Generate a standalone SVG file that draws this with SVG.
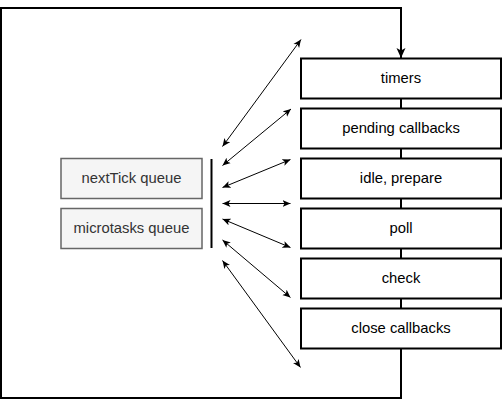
<svg xmlns="http://www.w3.org/2000/svg" width="502" height="400" viewBox="0 0 502 400">
<style>
.phase rect{fill:#ffffff;stroke:#000000;stroke-width:2}
.queue rect{fill:#f5f5f5;stroke:#666666;stroke-width:1.5}
text{font-family:"Liberation Sans",Arial,sans-serif;font-size:14.8px;text-anchor:middle}
.phase text{fill:#000000}
.queue text{fill:#333333}
.thin{fill:none;stroke:#000000;stroke-width:1;marker-start:url(#ah);marker-end:url(#ah)}
.thick{fill:none;stroke:#000000;stroke-width:2}
</style>
<defs>
<marker id="ah" viewBox="0 0 8 8" refX="8" refY="4" markerWidth="8" markerHeight="8" markerUnits="userSpaceOnUse" orient="auto-start-reverse">
<path d="M0,0.5 L8,4 L0,7.5 L2,4 Z" fill="#000000"/>
</marker>
<marker id="bh" viewBox="0 0 10 10" refX="10" refY="5" markerWidth="10" markerHeight="10" markerUnits="userSpaceOnUse" orient="auto">
<path d="M0,0.5 L10,5 L0,9.5 L2.5,5 Z" fill="#000000"/>
</marker>
</defs>
<g id="connectors">
<path class="thick" d="M401,348 L401,398 L1,398 L1,8 L401,8 L401,58" marker-end="url(#bh)"/>
<line class="thick" x1="401" y1="98" x2="401" y2="108"/>
<line class="thick" x1="401" y1="148" x2="401" y2="158"/>
<line class="thick" x1="401" y1="198" x2="401" y2="208"/>
<line class="thick" x1="401" y1="248" x2="401" y2="258"/>
<line class="thick" x1="401" y1="298" x2="401" y2="308"/>
<line class="thin" x1="222.5" y1="146.5" x2="301" y2="39.5"/>
<line class="thin" x1="222.5" y1="165.5" x2="291" y2="109"/>
<line class="thin" x1="222.5" y1="187.5" x2="290.5" y2="159.5"/>
<line class="thin" x1="222.5" y1="203.5" x2="290.5" y2="203.5"/>
<line class="thin" x1="222.5" y1="219" x2="290.5" y2="247.5"/>
<line class="thin" x1="222.5" y1="240" x2="290.5" y2="297.5"/>
<line class="thin" x1="222.5" y1="260.5" x2="300.5" y2="367.5"/>
</g>
<g id="bar">
<line x1="211.5" y1="159" x2="211.5" y2="248" stroke="#000000" stroke-width="2"/>
</g>
<g id="timers" class="phase"><rect x="301" y="58.5" width="200" height="40"/><text x="401" y="83">timers</text></g>
<g id="pending-callbacks" class="phase"><rect x="301" y="108.5" width="200" height="40"/><text x="401" y="133">pending callbacks</text></g>
<g id="idle-prepare" class="phase"><rect x="301" y="158.5" width="200" height="40"/><text x="401" y="183">idle, prepare</text></g>
<g id="poll" class="phase"><rect x="301" y="208.5" width="200" height="40"/><text x="401" y="233">poll</text></g>
<g id="check" class="phase"><rect x="301" y="258.5" width="200" height="40"/><text x="401" y="283">check</text></g>
<g id="close-callbacks" class="phase"><rect x="301" y="308.5" width="200" height="40"/><text x="401" y="333">close callbacks</text></g>
<g id="nexttick-queue" class="queue"><rect x="61" y="158.5" width="141" height="40"/><text x="131.5" y="183">nextTick queue</text></g>
<g id="microtasks-queue" class="queue"><rect x="61" y="208.5" width="141" height="40"/><text x="131.5" y="233">microtasks queue</text></g>
</svg>
